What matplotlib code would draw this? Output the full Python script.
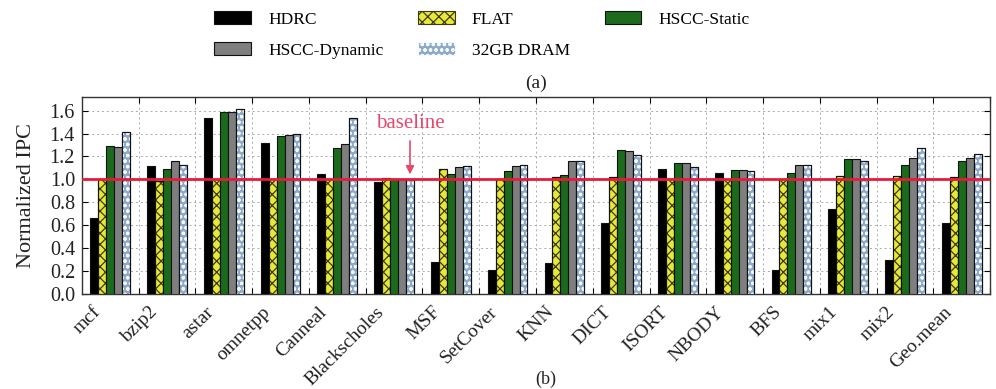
import matplotlib
matplotlib.use("Agg")
import matplotlib.pyplot as plt
import numpy as np
from matplotlib.patches import Patch

plt.rcParams['font.family'] = ['Liberation Serif', 'DejaVu Serif']
plt.rcParams['hatch.linewidth'] = 0.9

categories = ["mcf", "bzip2", "astar", "omnetpp", "Canneal", "Blackscholes", "MSF",
              "SetCover", "KNN", "DICT", "ISORT", "NBODY", "BFS", "mix1", "mix2", "Geo.mean"]
hdrc = [0.66, 1.12, 1.54, 1.32, 1.05, 0.98, 0.28, 0.21, 0.27, 0.62, 1.09, 1.06, 0.21, 0.74, 0.30, 0.62]
flat = [1.00, 0.99, 1.00, 1.00, 1.00, 1.01, 1.09, 1.00, 1.02, 1.02, 1.00, 1.00, 1.00, 1.03, 1.03, 1.02]
hscc_static = [1.29, 1.09, 1.59, 1.38, 1.27, 1.00, 1.05, 1.07, 1.04, 1.26, 1.14, 1.08, 1.06, 1.18, 1.13, 1.16]
hscc_dynamic = [1.28, 1.16, 1.59, 1.39, 1.31, 1.00, 1.11, 1.12, 1.16, 1.25, 1.14, 1.08, 1.13, 1.18, 1.19, 1.19]
dram32 = [1.41, 1.13, 1.61, 1.40, 1.54, 1.00, 1.12, 1.13, 1.16, 1.21, 1.11, 1.07, 1.13, 1.16, 1.27, 1.22]

fig = plt.figure(figsize=(9.96, 3.89), dpi=100)
ax = fig.add_axes([0.0823, 0.244, 0.994 - 0.0823, 0.751 - 0.244])

x = np.arange(len(categories))
w = 0.14
offs = [-2 * w, -w, 0, w, 2 * w]

series = [
    ("HDRC", hdrc, "#000000", None, None),
    ("FLAT", flat, "#e8e83a", "xxx", "#3a3a10"),
    ("HSCC-Static", hscc_static, "#1c6b1c", None, None),
    ("HSCC-Dynamic", hscc_dynamic, "#7f7f7f", None, None),
    ("32GB DRAM", dram32, "#8eaac6", "ooo", "#f4f8ff"),
]

handles = {}
for (name, vals, fc, hatch, hc), o in zip(series, offs):
    ax.bar(x + o, vals, w, color=fc, edgecolor="#111111", linewidth=0.8, zorder=3)
    if hatch:
        ax.bar(x + o, vals, w, facecolor="none", edgecolor=hc, hatch=hatch, linewidth=0, zorder=3.5)
        ax.bar(x + o, vals, w, facecolor="none", edgecolor="#111111", linewidth=0.8, zorder=3.6)
    handles[name] = (fc, hatch, hc)

ax.axhline(1.0, color="#e8193c", linewidth=2.0, zorder=5)

ax.set_xlim(-0.5, 15.5)
ax.set_ylim(0, 1.72)
yt = np.arange(0, 1.61, 0.2)
ax.set_yticks(yt)
ax.set_yticklabels([f"{v:.1f}" for v in yt], fontsize=14.5, color="#222222")
ax.set_ylabel("Normalized IPC", fontsize=16, color="#222222", labelpad=10)

ax.set_xticks(x + 0.5)
ax.set_xticklabels([])
ax.tick_params(axis="x", direction="in", top=True, bottom=True, length=4)
ax.tick_params(axis="y", direction="in", left=True, right=True, length=4, pad=5)
for xv, lab in zip(x, categories):
    ax.text(xv - 0.12, -0.08, lab, rotation=45, ha="right", va="top",
            fontsize=14, color="#222222", transform=ax.transData)

ax.grid(True, which="major", linestyle=(0, (2, 3)), color="#aaaaaa", linewidth=0.7, zorder=0)
ax.set_axisbelow(True)
for sp in ax.spines.values():
    sp.set_color("#333333")
    sp.set_linewidth(1.0)

ax.text(5.28, 1.49, "baseline", color="#e8476a", fontsize=15, ha="center", va="center", zorder=6)
ax.annotate("", xy=(5.28, 1.02), xytext=(5.28, 1.36),
            arrowprops=dict(arrowstyle="-|>", color="#e8476a", lw=1.2, mutation_scale=12), zorder=6)

fig.text(0.538, 1 - 83 / 389, "(a)", ha="center", va="center", fontsize=14, color="#222222")
fig.text(0.548, 1 - 388 / 389, "(b)", ha="center", va="bottom", fontsize=13, color="#222222")

order = ["HDRC", "HSCC-Dynamic", "FLAT", "32GB DRAM", "HSCC-Static"]
leg_handles = []
for n in order:
    fc, hatch, hc = handles[n]
    if hatch:
        leg_handles.append(Patch(facecolor=fc, edgecolor=hc if hatch == "xxx" else "#f4f8ff",
                                 hatch=hatch, linewidth=0.8, label=n))
    else:
        leg_handles.append(Patch(facecolor=fc, edgecolor="#111111", linewidth=0.8, label=n))
fig.legend(handles=leg_handles, loc="upper left", bbox_to_anchor=(203 / 996, 1 - 0 / 389),
           ncol=3, frameon=False, fontsize=12.5, handlelength=2.1, handleheight=0.75,
           handletextpad=1.0, columnspacing=2.0, labelspacing=0.85, borderpad=0.15)

fig.savefig("out.png", dpi=100)
